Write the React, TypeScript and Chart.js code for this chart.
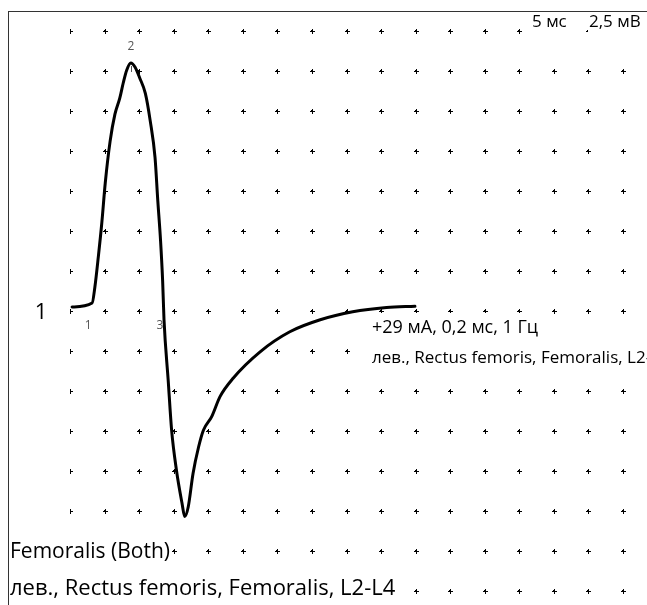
import React, { useEffect, useRef } from "react";
import { Chart, registerables } from "chart.js";

Chart.register(...registerables);

// ---- data ----
const TIME_MS = [
  0.3, 3.2, 3.6, 4.1, 4.6, 5.1, 5.8, 6.5, 7.2, 7.7, 8.2, 8.8, 9.4, 10.1, 10.9,
  11.6, 12.3, 12.7, 13.1, 13.4, 13.6, 14.2, 14.7, 15.4, 16.2, 16.6, 17.1, 17.8,
  18.6, 19.3, 20.5, 21.7, 23.6, 27.5, 31.8, 36.2, 40.9, 45.8, 49.9,
];
const AMP_MV = [
  0.25, 0.5, 1.5, 3.4, 5.5, 8.0, 10.6, 12.3, 13.3, 14.25, 15.05, 15.5, 15.25,
  14.55, 13.6, 11.9, 9.6, 6.9, 4.4, 1.9, -0.55, -4.3, -7.45, -9.95, -12.0,
  -12.85, -12.25, -10.15, -8.5, -7.45, -6.6, -5.35, -4.2, -2.55, -1.3, -0.55,
  -0.05, 0.22, 0.3,
];
const MARKER_LABELS = ["1", "2", "3"];
const MARKER_TIME_MS = [3.2, 8.8, 13.6];
const MARKER_AMP_MV = [0.5, 15.5, -0.55];

const X_DIV_MS = 5;
const Y_DIV_MV = 2.5;
const X_RANGE_MS = [0, 80];
const Y_RANGE_MV = [-17.5, 17.5];

const TRACE_NUMBER = "1";
const SWEEP_LABEL = "5 мс";
const GAIN_LABEL = "2,5 мВ";
const STIM_LABEL = "+29 мА, 0,2 мс, 1 Гц";
const SITE_LABEL = "лев., Rectus femoris, Femoralis, L2-L4";
const NERVE_LABEL = "Femoralis (Both)";
const MUSCLE_LABEL = "лев., Rectus femoris, Femoralis, L2-L4";

const FONT = '"Open Sans", "DejaVu Sans", sans-serif';

function boxText(
  ctx: CanvasRenderingContext2D,
  text: string,
  x: number,
  yc: number,
  size: number,
  boxTop: number,
  boxBottom: number
) {
  ctx.font = `${size}px ${FONT}`;
  const w = ctx.measureText(text).width;
  ctx.fillStyle = "#fff";
  ctx.fillRect(x - 1, boxTop, w + 2, boxBottom - boxTop);
  ctx.fillStyle = "#000";
  ctx.textBaseline = "middle";
  ctx.textAlign = "left";
  ctx.fillText(text, x, yc);
}

const gridPlugin = {
  id: "dotGrid",
  beforeDatasetsDraw(chart: any) {
    const { ctx, chartArea, scales } = chart;
    const xs = scales.x;
    const ys = scales.y;
    ctx.save();
    ctx.beginPath();
    ctx.rect(chartArea.left, 0, chart.width - chartArea.left, chart.height);
    ctx.clip();
    ctx.fillStyle = "#000";
    for (let xv = xs.min; xv <= xs.max + 1e-6; xv += X_DIV_MS) {
      const px = Math.round(xs.getPixelForValue(xv));
      for (let yv = ys.min; yv <= ys.max + 1e-6; yv += Y_DIV_MV) {
        const py = Math.round(ys.getPixelForValue(yv));
        ctx.fillRect(px - 2, py, 5, 1);
        ctx.fillRect(px, py - 2, 1, 5);
        ctx.fillRect(px - 1, py - 1, 2, 2);
      }
    }
    ctx.restore();
  },
  afterDatasetsDraw(chart: any) {
    const { ctx, scales } = chart;
    const xs = scales.x;
    const ys = scales.y;
    ctx.save();
    // frame
    ctx.strokeStyle = "#333";
    ctx.lineWidth = 1;
    ctx.strokeRect(8.5, 11.5, 1000, 1000);

    // markers
    const zeroY = ys.getPixelForValue(0);
    ctx.font = `12px ${FONT}`;
    ctx.textAlign = "center";
    ctx.textBaseline = "middle";
    MARKER_LABELS.forEach((lab, i) => {
      const px = xs.getPixelForValue(MARKER_TIME_MS[i]);
      const py = ys.getPixelForValue(MARKER_AMP_MV[i]);
      ctx.fillStyle = "#555";
      if (MARKER_AMP_MV[i] > Y_DIV_MV) {
        ctx.fillText(lab, px, py - 16);
        ctx.fillRect(Math.round(px), Math.round(py) + 3, 1, 6);
      } else {
        ctx.fillText(lab, px - 4, zeroY + 15);
      }
    });

    // trace number
    ctx.fillStyle = "#000";
    ctx.font = `22px ${FONT}`;
    ctx.textAlign = "center";
    ctx.fillText(TRACE_NUMBER, 41, zeroY + 2);

    // calibration labels
    boxText(ctx, SWEEP_LABEL, 532, 22, 17, 12, 36);
    boxText(ctx, GAIN_LABEL, 589, 22, 17, 12, 36);

    // stimulus / site labels
    boxText(ctx, STIM_LABEL, 372, 328, 18, 313, 343);
    boxText(ctx, SITE_LABEL, 372, 358, 17, 343, 374);

    // nerve / muscle labels
    boxText(ctx, NERVE_LABEL, 10, 552, 21, 536, 570);
    boxText(ctx, MUSCLE_LABEL, 10, 589, 22, 572, 605);
    ctx.restore();
  },
};

export default function App() {
  const ref = useRef<HTMLCanvasElement | null>(null);
  useEffect(() => {
    if (!ref.current) return;
    const points = TIME_MS.map((t, i) => ({ x: t, y: AMP_MV[i] }));
    const chart = new Chart(ref.current, {
      type: "line",
      data: {
        datasets: [
          {
            data: points,
            borderColor: "#000",
            borderWidth: 3,
            pointRadius: 0,
            cubicInterpolationMode: "monotone",
            borderCapStyle: "round",
            borderJoinStyle: "round",
            fill: false,
          },
        ],
      },
      options: {
        responsive: false,
        animation: false,
        devicePixelRatio: 1,
        layout: { padding: { left: 70, right: 24, top: 31, bottom: 14 } },
        plugins: { legend: { display: false }, tooltip: { enabled: false } },
        scales: {
          x: {
            type: "linear",
            min: X_RANGE_MS[0],
            max: X_RANGE_MS[1],
            display: false,
          },
          y: {
            type: "linear",
            min: Y_RANGE_MV[0],
            max: Y_RANGE_MV[1],
            display: false,
          },
        },
      },
      plugins: [gridPlugin],
    });
    return () => chart.destroy();
  }, []);
  return (
    <div
      style={{
        position: "absolute",
        left: 0,
        top: 0,
        width: 647,
        height: 605,
        background: "#fff",
      }}
    >
      <canvas ref={ref} width={647} height={605} style={{ display: "block" }} />
    </div>
  );
}
